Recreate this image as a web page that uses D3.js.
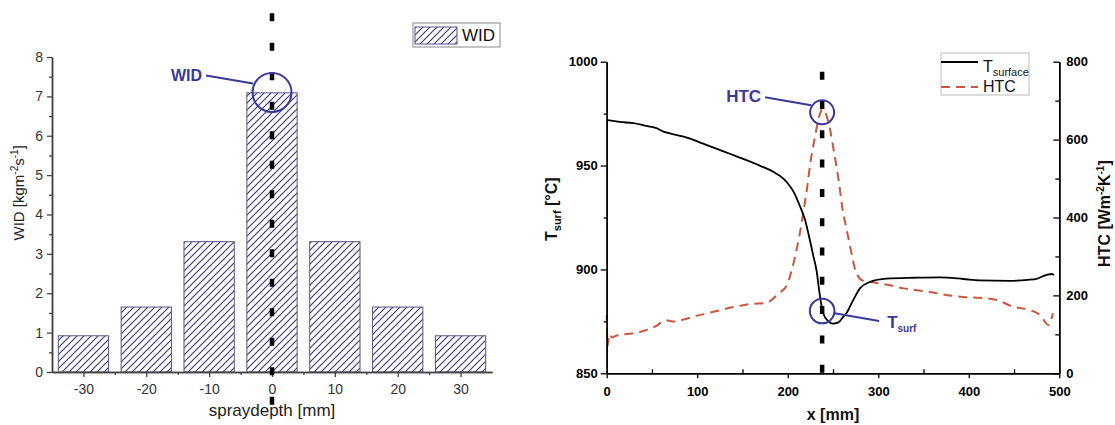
<!DOCTYPE html>
<html>
<head>
<meta charset="utf-8">
<script src="https://cdn.jsdelivr.net/npm/d3@7"></script>
<style>
body { margin: 0; background: #fff; }
svg { display: block; font-family: "Liberation Sans", Arial, sans-serif; }
</style>
</head>
<body>
<script>
// left panel: water impingement density per spray depth
var depths = [-30, -20, -10, 0, 10, 20, 30];
var widValues = [0.92, 1.65, 3.31, 7.09, 3.31, 1.65, 0.92];
var widTicks = [0, 1, 2, 3, 4, 5, 6, 7, 8];
var widMinor = [0.5, 1.5, 2.5, 3.5, 4.5, 5.5, 6.5, 7.5];
var depthTicks = [-30, -20, -10, 0, 10, 20, 30];
var depthMinor = [-25, -15, -5, 5, 15, 25];

// right panel: surface temperature and HTC along x
var tsurfX = [0, 15, 29, 45, 55, 62, 70, 84, 110, 140, 169, 184, 199, 207, 213, 219, 224, 228, 232, 235, 239, 245, 250, 256, 261, 265, 272, 280, 291, 309, 340, 368, 394, 412, 445, 465, 475, 486, 492, 494];
var tsurfY = [972, 971, 970.4, 969, 968, 966.5, 965.5, 964, 960, 955, 950, 947, 942, 937, 931, 924, 915, 907, 899, 889, 879, 875, 873.9, 874.5, 877, 879, 885, 891, 894, 895.6, 896, 896.2, 895.4, 894.7, 894.5, 895, 895.5, 897.4, 897.8, 897.2];
var htcX = [0, 1, 3, 6, 10, 20, 35, 45, 55, 65, 75, 85, 100, 118, 140, 160, 175, 182, 190, 199, 205, 210, 213, 217, 221, 225, 230, 235, 238.5, 245, 251, 256, 261, 265, 269, 276, 283, 298, 313, 328, 340, 357, 375, 394, 412, 431, 449, 468, 479, 488, 493];
var htcY = [150, 70, 100, 92, 96, 100, 105, 112, 122, 136, 133, 138, 148, 158, 170, 178, 180, 188, 205, 226, 270, 320, 355, 410, 470, 540, 606, 662, 678, 645, 570, 500, 415, 370, 324, 256, 238, 232, 226, 218, 214, 209, 201, 196, 194, 188, 171, 162, 149, 124, 154];
var tempTicks = [850, 900, 950, 1000];
var tempMinor = [875, 925, 975];
var htcTicks = [0, 200, 400, 600, 800];
var htcMinor = [100, 300, 500, 700];
var posTicks = [0, 100, 200, 300, 400, 500];
var posMinor = [50, 150, 250, 350, 450];

var width = 1115, height = 425;
var navy = "#3a3899";
var orange = "#c9573d";
var plain = function(d) { return String(d); };

var svg = d3.select("body").append("svg")
    .attr("width", width)
    .attr("height", height);

var defs = svg.append("defs");
defs.append("pattern")
    .attr("id", "hatch")
    .attr("patternUnits", "userSpaceOnUse")
    .attr("width", 7)
    .attr("height", 7)
    .append("path")
    .attr("d", "M-1,1 L1,-1 M0,7 L7,0 M6,8 L8,6")
    .attr("stroke", "#3f3c7a")
    .attr("stroke-width", 1.2);

// ---------- left panel ----------
var xL = d3.scaleLinear().domain([-35, 35]).range([52, 492]);
var yL = d3.scaleLinear().domain([0, 8]).range([372, 57]);

var left = svg.append("g");

left.selectAll("rect.bar")
    .data(depths)
    .enter()
    .append("rect")
    .attr("class", "bar")
    .attr("x", function(d) { return xL(d - 4); })
    .attr("width", xL(8) - xL(0))
    .attr("y", function(d, i) { return yL(widValues[i]); })
    .attr("height", function(d, i) { return yL(0) - yL(widValues[i]); })
    .attr("fill", "url(#hatch)")
    .attr("stroke", "#55558a")
    .attr("stroke-width", 1);

function styleAxis(g, col, fsize, weight) {
    g.select(".domain").attr("stroke", col).attr("stroke-width", 1.5);
    g.selectAll(".tick line").attr("stroke", col).attr("stroke-width", 1.3);
    g.selectAll(".tick text")
        .attr("fill", col === "#000" ? "#000" : "#333")
        .attr("font-size", fsize)
        .attr("font-weight", weight)
        .attr("font-family", "'Liberation Sans', Arial, sans-serif");
}

var gxL = left.append("g").attr("transform", "translate(0," + yL(0) + ")")
    .call(d3.axisBottom(xL).tickValues(depthTicks).tickFormat(plain).tickSize(5).tickSizeOuter(0).tickPadding(7));
styleAxis(gxL, "#444", 14, "normal");
var gxLm = left.append("g").attr("transform", "translate(0," + yL(0) + ")")
    .call(d3.axisBottom(xL).tickValues(depthMinor).tickSize(3).tickSizeOuter(0).tickFormat(""));
styleAxis(gxLm, "#444", 14, "normal");

var gyL = left.append("g").attr("transform", "translate(" + xL(-35) + ",0)")
    .call(d3.axisLeft(yL).tickValues(widTicks).tickFormat(plain).tickSize(5).tickSizeOuter(0).tickPadding(4));
styleAxis(gyL, "#444", 14, "normal");
var gyLm = left.append("g").attr("transform", "translate(" + xL(-35) + ",0)")
    .call(d3.axisLeft(yL).tickValues(widMinor).tickSize(3).tickSizeOuter(0).tickFormat(""));
styleAxis(gyLm, "#444", 14, "normal");

left.append("text")
    .attr("x", xL(0))
    .attr("y", 416)
    .attr("text-anchor", "middle")
    .attr("font-size", 17)
    .attr("fill", "#222")
    .text("spraydepth [mm]");

var ylab = left.append("text")
    .attr("transform", "translate(24," + yL(4.55) + ") rotate(-90)")
    .attr("text-anchor", "middle")
    .attr("font-size", 15)
    .attr("fill", "#222");
ylab.append("tspan").text("WID [kgm");
ylab.append("tspan").attr("font-size", 10).attr("dy", -6).text("-2");
ylab.append("tspan").attr("dy", 6).text("s");
ylab.append("tspan").attr("font-size", 10).attr("dy", -6).text("-1");
ylab.append("tspan").attr("dy", 6).text("]");

// dashed centre line
left.append("line")
    .attr("x1", xL(0)).attr("x2", xL(0))
    .attr("y1", 13.3).attr("y2", 406)
    .attr("stroke", "#000")
    .attr("stroke-width", 4.5)
    .attr("stroke-dasharray", "8,21.5");

// WID annotation
var cW = { x: xL(0), y: yL(7.1) };
left.append("circle")
    .attr("cx", cW.x).attr("cy", cW.y).attr("r", 19.5)
    .attr("fill", "none").attr("stroke", navy).attr("stroke-width", 2);
left.append("line")
    .attr("x1", cW.x - 66).attr("y1", cW.y - 17)
    .attr("x2", cW.x - 19).attr("y2", cW.y - 9)
    .attr("stroke", navy).attr("stroke-width", 2);
left.append("text")
    .attr("x", cW.x - 70).attr("y", cW.y - 11)
    .attr("text-anchor", "end")
    .attr("font-size", 16).attr("font-weight", "bold")
    .attr("fill", navy)
    .text("WID");

// left legend
var lg = left.append("g").attr("transform", "translate(413,23)");
lg.append("rect").attr("width", 87).attr("height", 24)
    .attr("fill", "#fff").attr("stroke", "#888").attr("stroke-width", 1);
lg.append("rect").attr("x", 2).attr("y", 4).attr("width", 42).attr("height", 17)
    .attr("fill", "url(#hatch)").attr("stroke", "#55558a").attr("stroke-width", 1);
lg.append("text").attr("x", 49).attr("y", 18)
    .attr("font-size", 17).attr("fill", "#111").text("WID");

// ---------- right panel ----------
var xR = d3.scaleLinear().domain([0, 500]).range([606.7, 1059.3]);
var yT = d3.scaleLinear().domain([850, 1000]).range([373.3, 61.7]);
var yH = d3.scaleLinear().domain([0, 800]).range([373.3, 61.7]);

var right = svg.append("g");

var tsurf = tsurfX.map(function(x, i) { return [x, tsurfY[i]]; });
var htc = htcX.map(function(x, i) { return [x, htcY[i]]; });

right.append("path")
    .datum(htc)
    .attr("fill", "none")
    .attr("stroke", orange)
    .attr("stroke-width", 2)
    .attr("stroke-dasharray", "9,6")
    .attr("d", d3.line()
        .x(function(d) { return xR(d[0]); })
        .y(function(d) { return yH(d[1]); })
        .curve(d3.curveMonotoneX));

right.append("path")
    .datum(tsurf)
    .attr("fill", "none")
    .attr("stroke", "#000")
    .attr("stroke-width", 1.8)
    .attr("d", d3.line()
        .x(function(d) { return xR(d[0]); })
        .y(function(d) { return yT(d[1]); })
        .curve(d3.curveMonotoneX));

var gxR = right.append("g").attr("transform", "translate(0," + yT(850) + ")")
    .call(d3.axisBottom(xR).tickValues(posTicks).tickFormat(plain).tickSize(5).tickSizeOuter(0).tickPadding(8));
styleAxis(gxR, "#000", 13, "bold");
var gxRm = right.append("g").attr("transform", "translate(0," + yT(850) + ")")
    .call(d3.axisBottom(xR).tickValues(posMinor).tickSize(-4).tickSizeOuter(0).tickFormat(""));
styleAxis(gxRm, "#000", 13, "bold");

var gyT = right.append("g").attr("transform", "translate(" + xR(0) + ",0)")
    .call(d3.axisLeft(yT).tickValues(tempTicks).tickFormat(plain).tickSize(6).tickSizeOuter(0).tickPadding(3));
styleAxis(gyT, "#000", 13, "bold");
var gyTm = right.append("g").attr("transform", "translate(" + xR(0) + ",0)")
    .call(d3.axisLeft(yT).tickValues(tempMinor).tickSize(3).tickSizeOuter(0).tickFormat(""));
styleAxis(gyTm, "#000", 13, "bold");

var gyH = right.append("g").attr("transform", "translate(" + xR(500) + ",0)")
    .call(d3.axisRight(yH).tickValues(htcTicks).tickFormat(plain).tickSize(-6).tickSizeOuter(0).tickPadding(7));
styleAxis(gyH, "#000", 13, "bold");
var gyHm = right.append("g").attr("transform", "translate(" + xR(500) + ",0)")
    .call(d3.axisRight(yH).tickValues(htcMinor).tickSize(-4).tickSizeOuter(0).tickFormat(""));
styleAxis(gyHm, "#000", 13, "bold");

right.append("text")
    .attr("x", xR(250))
    .attr("y", 420)
    .attr("text-anchor", "middle")
    .attr("font-size", 16).attr("font-weight", "bold")
    .attr("fill", "#111")
    .text("x [mm]");

var tlab = right.append("text")
    .attr("transform", "translate(557," + yT(929) + ") rotate(-90)")
    .attr("text-anchor", "middle")
    .attr("font-size", 16).attr("font-weight", "bold")
    .attr("fill", "#111");
tlab.append("tspan").text("T");
tlab.append("tspan").attr("font-size", 11).attr("dy", 4).text("surf");
tlab.append("tspan").attr("dy", -4).text(" [°C]");

var hlab = right.append("text")
    .attr("transform", "translate(1110," + yH(410) + ") rotate(-90)")
    .attr("text-anchor", "middle")
    .attr("font-size", 16).attr("font-weight", "bold")
    .attr("fill", "#111");
hlab.append("tspan").text("HTC [Wm");
hlab.append("tspan").attr("font-size", 10).attr("dy", -6).text("-2");
hlab.append("tspan").attr("dy", 6).text("K");
hlab.append("tspan").attr("font-size", 10).attr("dy", -6).text("-1");
hlab.append("tspan").attr("dy", 6).text("]");

// dashed nozzle line
right.append("line")
    .attr("x1", xR(238)).attr("x2", xR(238))
    .attr("y1", 71.7).attr("y2", yT(850))
    .attr("stroke", "#000")
    .attr("stroke-width", 4.5)
    .attr("stroke-dasharray", "8,21.3");

// HTC annotation
var cH = { x: xR(238), y: yH(670) };
right.append("circle")
    .attr("cx", cH.x).attr("cy", cH.y).attr("r", 12)
    .attr("fill", "none").attr("stroke", navy).attr("stroke-width", 2);
right.append("line")
    .attr("x1", cH.x - 57).attr("y1", cH.y - 15)
    .attr("x2", cH.x - 11).attr("y2", cH.y - 7)
    .attr("stroke", navy).attr("stroke-width", 2);
right.append("text")
    .attr("x", cH.x - 61).attr("y", cH.y - 10)
    .attr("text-anchor", "end")
    .attr("font-size", 17).attr("font-weight", "bold")
    .attr("fill", navy)
    .text("HTC");

// Tsurf annotation
var cT = { x: xR(238), y: yT(880) };
right.append("circle")
    .attr("cx", cT.x).attr("cy", cT.y).attr("r", 12.3)
    .attr("fill", "none").attr("stroke", navy).attr("stroke-width", 2);
right.append("line")
    .attr("x1", cT.x + 11).attr("y1", cT.y + 2)
    .attr("x2", cT.x + 57).attr("y2", cT.y + 10)
    .attr("stroke", navy).attr("stroke-width", 2);
var tt = right.append("text")
    .attr("x", cT.x + 65).attr("y", cT.y + 17)
    .attr("font-weight", "bold")
    .attr("fill", navy);
tt.append("tspan").attr("font-size", 17).text("T");
tt.append("tspan").attr("font-size", 10).attr("dy", 4).text("surf");

// right legend
var rg = right.append("g").attr("transform", "translate(941,53)");
rg.append("rect").attr("width", 88).attr("height", 42)
    .attr("fill", "#fff").attr("stroke", "#bbb").attr("stroke-width", 1);
rg.append("line").attr("x1", 0).attr("x2", 37).attr("y1", 9).attr("y2", 9)
    .attr("stroke", "#000").attr("stroke-width", 1.8);
rg.append("line").attr("x1", 0).attr("x2", 37).attr("y1", 34).attr("y2", 34)
    .attr("stroke", orange).attr("stroke-width", 2).attr("stroke-dasharray", "9,6");
var lt = rg.append("text").attr("x", 42).attr("y", 18.5).attr("fill", "#111");
lt.append("tspan").attr("font-size", 16).text("T");
lt.append("tspan").attr("font-size", 11).attr("dy", 4).text("surface");
rg.append("text").attr("x", 42).attr("y", 39).attr("font-size", 16)
    .attr("fill", "#111").text("HTC");
</script>
</body>
</html>
